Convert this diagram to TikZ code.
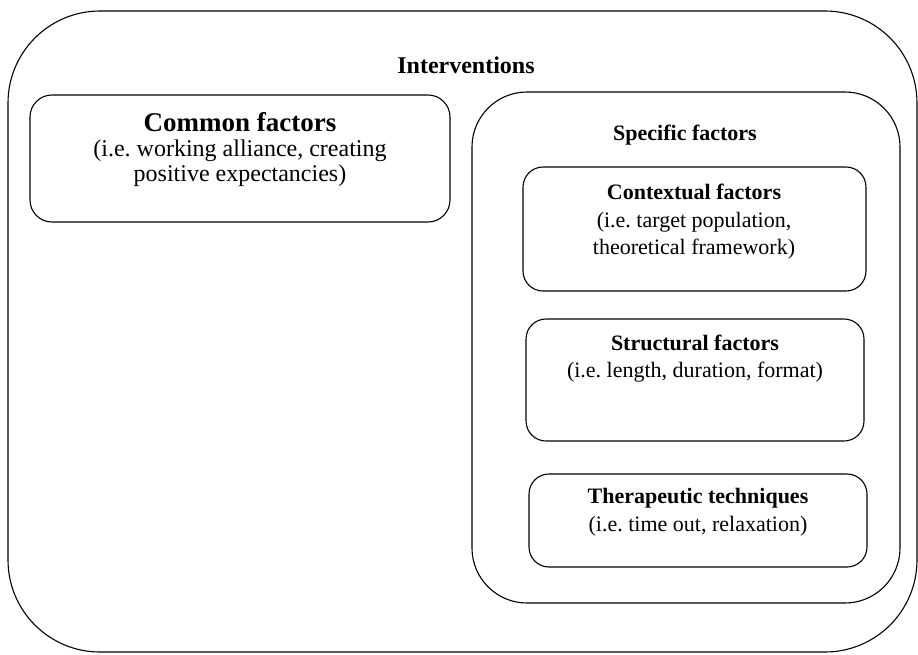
\documentclass[tikz,border=0pt]{standalone}
\usepackage{fontspec}
\setmainfont{Liberation Serif}
\usetikzlibrary{positioning}
\frenchspacing

\begin{document}
\begin{tikzpicture}[x=1pt,y=-1pt,
	frame/.style={draw, line width=1.1pt, rounded corners=#1, inner sep=0pt},
	txt/.style={align=center, inner sep=0pt, font=\fontsize{22}{27.5}\selectfont},
	ttl/.style={inner sep=0pt, font=\fontsize{22}{27}\selectfont\bfseries}]
	\useasboundingbox (0,0) rectangle (918,654);
	
	\node[frame=92pt, minimum width=909pt, minimum height=641pt] (interv) at (462.5,331.5) {};
	\node[ttl, font=\fontsize{24}{27}\selectfont\bfseries] (interv-t) at (466,65) {Interventions};
	
	\node[frame=22pt, minimum width=420pt, minimum height=127pt] (common) at (240,158.5) {};
	\node[txt, font=\fontsize{24}{25}\selectfont] (common-t) at (240,150) {{\fontsize{27}{25}\selectfont\bfseries Common factors}\\(i.e. working alliance, creating\\positive expectancies)};
	
	\node[frame=55pt, minimum width=428pt, minimum height=511pt] (specific) at (686,347.5) {};
	\node[ttl] (specific-t) at (685,135) {Specific factors};
	
	\node[frame=20pt, minimum width=343pt, minimum height=124pt] (context) at (694.5,229) {};
	\node[txt] (context-t) at (694,222) {\textbf{Contextual factors}\\(i.e. target population,\\theoretical framework)};
	
	\node[frame=20pt, minimum width=338pt, minimum height=122pt] (struct) at (695,380) {};
	\node[txt] (struct-t) at (695,358.5) {\textbf{Structural factors}\\(i.e. length, duration, format)};
	
	\node[frame=20pt, minimum width=338pt, minimum height=93pt] (thera) at (698,520.5) {};
	\node[txt] (thera-t) at (698,512) {\textbf{Therapeutic techniques}\\(i.e. time out, relaxation)};
\end{tikzpicture}
\end{document}
